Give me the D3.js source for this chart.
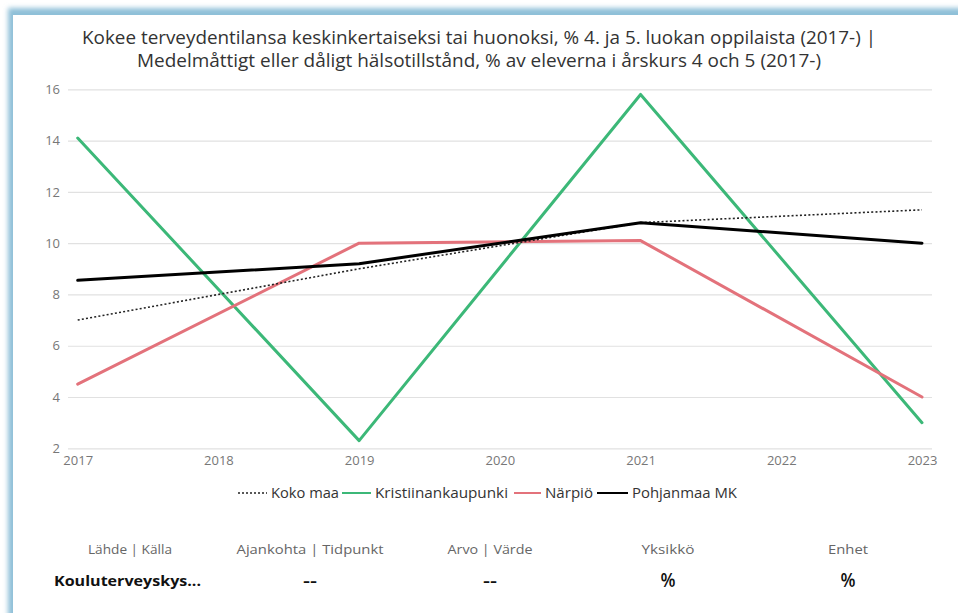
<!DOCTYPE html>
<html>
<head>
<meta charset="utf-8">
<script src="https://cdn.jsdelivr.net/npm/d3@7"></script>
<style>
  html, body { margin: 0; padding: 0; background: #ffffff; }
  svg { display: block; font-family: "Segoe UI", "Open Sans", "Noto Sans", sans-serif; }
</style>
</head>
<body>
<svg id="chart" width="958" height="613"></svg>
<script>
// ---- data ----
const titleLines = [
  "Kokee terveydentilansa keskinkertaiseksi tai huonoksi, % 4. ja 5. luokan oppilaista (2017-) |",
  "Medelmåttigt eller dåligt hälsotillstånd, % av eleverna i årskurs 4 och 5 (2017-)"
];
const years = [2017, 2019, 2021, 2023];
const xTicks = [2017, 2018, 2019, 2020, 2021, 2022, 2023];
const yTicks = [2, 4, 6, 8, 10, 12, 14, 16];
const seriesNames = ["Koko maa", "Kristiinankaupunki", "Närpiö", "Pohjanmaa MK"];
const kokoMaa = [7.0, 9.0, 10.8, 11.3];
const kristiinankaupunki = [14.1, 2.3, 15.8, 3.0];
const narpio = [4.5, 10.0, 10.1, 4.0];
const pohjanmaa = [8.55, 9.2, 10.8, 10.0];
const tableHeaders = ["Lähde | Källa", "Ajankohta | Tidpunkt", "Arvo | Värde", "Yksikkö", "Enhet"];
const tableValues = ["Kouluterveyskys...", "--", "--", "%", "%"];

// ---- drawing ----
const svg = d3.select("#chart");
const W = 958, H = 613;

// card background with blue-ish frame on left/top
const defs = svg.append("defs");
const f = defs.append("filter").attr("id", "glow").attr("x", "-5%").attr("y", "-5%").attr("width", "110%").attr("height", "110%");
f.append("feGaussianBlur").attr("stdDeviation", 2.5);
svg.append("rect").attr("x", 8).attr("y", 8).attr("width", W + 20).attr("height", H + 20)
  .attr("fill", "#8fc0d8").attr("filter", "url(#glow)");
svg.append("rect").attr("x", 13).attr("y", 15).attr("width", W).attr("height", H).attr("fill", "#ffffff");

// title
const title = svg.append("text").attr("text-anchor", "middle").attr("fill", "#333333")
  .style("font-size", "17.5px");
title.selectAll("tspan").data(titleLines).join("tspan")
  .attr("x", 479).attr("y", (d, i) => 44 + i * 23).text(d => d)
  .attr("textLength", (d, i) => i === 0 ? 794 : 684).attr("lengthAdjust", "spacingAndGlyphs");

// scales
const x = d3.scaleLinear().domain([2017, 2023]).range([77.7, 922]);
const y = d3.scaleLinear().domain([2, 16]).range([448.3, 89.3]);

// y grid + labels
const yAxis = d3.axisLeft(y).tickValues(yTicks).tickSize(-(932 - 68)).tickPadding(8).tickFormat(d3.format("d"));
const gy = svg.append("g").attr("transform", "translate(68,0)").call(yAxis);
gy.select(".domain").remove();
gy.selectAll(".tick line").attr("stroke", "#e1e1e1").attr("stroke-width", 1.2);
gy.selectAll(".tick text").attr("fill", "#777777").style("font-size", "13px")
  .style("font-family", "\"Segoe UI\", \"Open Sans\", sans-serif");

// x labels
const xAxis = d3.axisBottom(x).tickValues(xTicks).tickSize(0).tickPadding(7).tickFormat(d3.format("d"));
const gx = svg.append("g").attr("transform", "translate(0,448.3)").call(xAxis);
gx.select(".domain").remove();
gx.selectAll(".tick text").attr("fill", "#777777").style("font-size", "13px")
  .style("font-family", "\"Segoe UI\", \"Open Sans\", sans-serif");

// lines
const line = d3.line().x((d, i) => x(years[i])).y(d => y(d));
const series = [
  { name: seriesNames[1], values: kristiinankaupunki, color: "#3cb878", width: 3, dash: null },
  { name: seriesNames[2], values: narpio, color: "#e3727b", width: 3, dash: null },
  { name: seriesNames[0], values: kokoMaa, color: "#222222", width: 1.6, dash: "2,2.2" },
  { name: seriesNames[3], values: pohjanmaa, color: "#000000", width: 3, dash: null }
];
svg.append("g").selectAll("path").data(series).join("path")
  .attr("d", d => line(d.values))
  .attr("fill", "none")
  .attr("stroke", d => d.color)
  .attr("stroke-width", d => d.width)
  .attr("stroke-dasharray", d => d.dash)
  .attr("stroke-linejoin", "round")
  .attr("stroke-linecap", d => d.dash ? "butt" : "round");

// legend
const legendItems = [
  { name: seriesNames[0], color: "#222222", dash: "2,2", width: 1.6, sx: 238, tx: 271, tw: 68 },
  { name: seriesNames[1], color: "#3cb878", dash: null, width: 2, sx: 342, tx: 375, tw: 133 },
  { name: seriesNames[2], color: "#e3727b", dash: null, width: 2, sx: 514, tx: 545, tw: 48 },
  { name: seriesNames[3], color: "#000000", dash: null, width: 2, sx: 597, tx: 632, tw: 105 }
];
const lg = svg.append("g");
const li = lg.selectAll("g").data(legendItems).join("g");
li.append("line").attr("x1", d => d.sx).attr("x2", d => d.tx - 4)
  .attr("y1", 493).attr("y2", 493)
  .attr("stroke", d => d.color).attr("stroke-width", d => d.width)
  .attr("stroke-dasharray", d => d.dash);
li.append("text").attr("x", d => d.tx).attr("y", 498).text(d => d.name)
  .attr("fill", "#333333").style("font-size", "14px")
  .attr("textLength", d => d.tw).attr("lengthAdjust", "spacingAndGlyphs");

// table
const colCenters = [130, 310, 490, 668, 848];
const headerWidths = [84, 147, 85, 53, 40];
const valueWidths = [147, 14, 14, 15, 15];
const valueSizes = [15, 18, 18, 19, 19];
svg.append("g").selectAll("text").data(tableHeaders).join("text")
  .attr("x", (d, i) => colCenters[i]).attr("y", 554).attr("text-anchor", "middle")
  .attr("fill", "#666666").style("font-size", "13px").text(d => d)
  .attr("textLength", (d, i) => headerWidths[i]).attr("lengthAdjust", "spacingAndGlyphs");
svg.append("g").selectAll("text").data(tableValues).join("text")
  .attr("x", (d, i) => i === 0 ? 127.5 : colCenters[i]).attr("y", (d, i) => i === 0 ? 586 : 587)
  .attr("text-anchor", "middle")
  .attr("fill", "#111111").style("font-size", (d, i) => valueSizes[i] + "px")
  .style("font-weight", (d, i) => i === 0 ? "bold" : "600").text(d => d)
  .attr("textLength", (d, i) => valueWidths[i]).attr("lengthAdjust", "spacingAndGlyphs");
</script>
</body>
</html>
